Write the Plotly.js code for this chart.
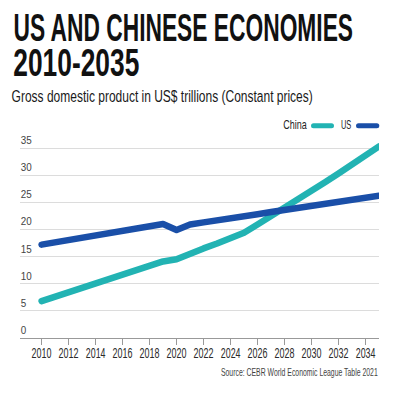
<!DOCTYPE html>
<html>
<head>
<meta charset="utf-8">
<script src="https://cdn.plot.ly/plotly-3.0.1.min.js"></script>
<style>
html, body { margin: 0; padding: 0; background: #fff; }
#chart { width: 400px; height: 397px; }
.scatterlayer .js-line { stroke-linecap: round; stroke-linejoin: round; }
.shapelayer path { stroke-linecap: round; }
</style>
</head>
<body>
<div id="chart"></div>
<script>
// ---- data ----
const years = [2010,2011,2012,2013,2014,2015,2016,2017,2018,2019,2020,2021,2022,2023,2024,2025,2026,2027,2028,2029,2030,2031,2032,2033,2034,2035];
const chinaGDP = [6.8,7.6,8.4,9.2,10.0,10.8,11.6,12.5,13.3,14.1,14.5,15.6,16.5,17.4,18.4,19.4,20.9,22.4,23.9,25.4,27.0,28.7,30.3,32.0,33.6,35.3];
const usGDP = [17.2,17.6,18.0,18.5,18.9,19.3,19.7,20.1,20.6,21.0,19.9,20.9,21.3,21.6,22.0,22.4,22.8,23.2,23.6,23.9,24.3,24.7,25.1,25.5,25.8,26.2];
const xTickVals = [2010,2012,2014,2016,2018,2020,2022,2024,2026,2028,2030,2032,2034];
const xTickText = ["2010","2012","2014","2016","2018","2020","2022","2024","2026","2028","2030","2032","2034"];
const yTickVals = [0,5,10,15,20,25,30,35];
const seriesNames = ["China","US"];
const seriesColors = ["#22b3b3","#1a4fa8"];
const titleLine1 = "US AND CHINESE ECONOMIES";
const titleLine2 = "2010-2035";
const subtitle = "Gross domestic product in US$ trillions (Constant prices)";
const source = "Source: CEBR World Economic League Table 2021";

// ---- layout geometry ----
const W = 400, H = 397;
const M = {l: 20, r: 21, t: 128, b: 59};
const PW = W - M.l - M.r, PH = H - M.t - M.b;
const px = x => (x - M.l) / PW;
const py = y => (H - M.b - y) / PH;
const FONT = "Liberation Sans, Arial, sans-serif";
const YTOP = PH / (190 / 35);

const traces = [
  {x: years, y: chinaGDP, name: seriesNames[0], type: "scatter", mode: "lines",
   line: {color: seriesColors[0], width: 6.5}, hoverinfo: "skip"},
  {x: years, y: usGDP, name: seriesNames[1], type: "scatter", mode: "lines",
   line: {color: seriesColors[1], width: 6.5}, hoverinfo: "skip"}
];

const layout = {
  width: W, height: H,
  margin: M,
  paper_bgcolor: "#fff", plot_bgcolor: "#fff",
  showlegend: false,
  font: {family: FONT, color: "#333"},
  xaxis: {
    range: [2008.4, 2035.0], tickvals: xTickVals, ticktext: xTickText, tickangle: 0,
    showgrid: false, zeroline: false, showline: true, linecolor: "#999", linewidth: 1.2,
    ticks: "outside", ticklen: 6, tickcolor: "#999", tickwidth: 1,
    tickfont: {family: FONT, size: 15.4, color: "#2a2a2a"}, fixedrange: true, automargin: false
  },
  yaxis: {
    range: [0, YTOP], tickvals: yTickVals,
    showgrid: true, gridcolor: "#dcdcdc", gridwidth: 1, zeroline: false, showline: false,
    ticks: "", ticklabelposition: "inside top",
    tickfont: {family: FONT, size: 11.6, color: "#444"}, fixedrange: true, automargin: false
  },
  annotations: [
    {xref: "paper", yref: "paper", x: px(11.5), y: py(27.2), xanchor: "left", yanchor: "middle",
     text: "<b>" + titleLine1 + "</b>", showarrow: false, borderpad: 0,
     font: {family: FONT, size: 27.6 / 0.716, color: "#111"}},
    {xref: "paper", yref: "paper", x: px(11.5), y: py(62), xanchor: "left", yanchor: "middle",
     text: "<b>" + titleLine2 + "</b>", showarrow: false, borderpad: 0,
     font: {family: FONT, size: 27.4 / 0.716, color: "#111"}},
    {xref: "paper", yref: "paper", x: px(10), y: py(95.8), xanchor: "left", yanchor: "middle",
     text: subtitle, showarrow: false, borderpad: 0,
     font: {family: FONT, size: 11.7 / 0.716, color: "#1a1a1a"}},
    {xref: "paper", yref: "paper", x: px(309), y: py(124.7), xanchor: "right", yanchor: "middle",
     text: seriesNames[0], showarrow: false, borderpad: 0,
     font: {family: FONT, size: 9.3 / 0.716, color: "#222"}},
    {xref: "paper", yref: "paper", x: px(353), y: py(124.7), xanchor: "right", yanchor: "middle",
     text: seriesNames[1], showarrow: false, borderpad: 0,
     font: {family: FONT, size: 9.3 / 0.716, color: "#222"}},
    {xref: "paper", yref: "paper", x: px(380), y: py(372.5), xanchor: "right", yanchor: "middle",
     text: source, showarrow: false, borderpad: 0,
     font: {family: FONT, size: 7.2 / 0.716, color: "#444"}}
  ],
  shapes: [
    {type: "line", xref: "paper", yref: "paper", x0: px(313.5), x1: px(331.5), y0: py(125.7), y1: py(125.7),
     line: {color: seriesColors[0], width: 5}},
    {type: "line", xref: "paper", yref: "paper", x0: px(358.5), x1: px(376.8), y0: py(125.7), y1: py(125.7),
     line: {color: seriesColors[1], width: 5}}
  ]
};

// condensing / fitting of the rendered text (keeps it real text)
function squeeze(el, opts) {
  const bb = el.getBBox();
  const m = el.getCTM();
  let sx = opts.sx !== undefined ? opts.sx : 1;
  if (opts.width) sx = opts.width / (bb.width * m.a);
  let sy = 1;
  if (opts.capH) sy = (opts.capH / 0.716 * 1.117) / (bb.height * m.d);
  let ax = bb.x + bb.width / 2;
  if (opts.anchor === "left") ax = bb.x;
  if (opts.anchor === "right") ax = bb.x + bb.width;
  const ay = bb.y + bb.height / 2;
  let tx = 0, ty = 0;
  if (opts.toX !== undefined) tx = (opts.toX - (m.a * ax + m.e)) / m.a;
  if (opts.toCY !== undefined) ty = (opts.toCY - (m.d * ay + m.f)) / m.d;
  const ex = el.getAttribute("transform") || "";
  el.setAttribute("transform", ex + " translate(" + (ax + tx) + "," + (ay + ty) + ") scale(" + sx + "," + sy + ") translate(" + (-ax) + "," + (-ay) + ")");
}

Plotly.newPlot("chart", traces, layout, {displayModeBar: false, staticPlot: true}).then(gd => {
  const specs = [
    {anchor: "left", width: 339.5, toX: 13.5},
    {anchor: "left", width: 126, toX: 13.3},
    {anchor: "left", width: 301, toX: 11.7},
    {anchor: "right", width: 24, toX: 307.3},
    {anchor: "right", width: 10.5, toX: 351.5},
    {anchor: "right", width: 157, toX: 378}
  ];
  gd.querySelectorAll(".annotation-text").forEach((el, i) => squeeze(el, specs[i]));
  gd.querySelectorAll(".xtick text").forEach(el => squeeze(el, {anchor: "center", width: 20, capH: 11, toCY: 352.5}));
  gd.querySelectorAll(".ytick text").forEach(el => squeeze(el, {anchor: "left", sx: 0.85, toX: 20.7}));
});
</script>
</body>
</html>
